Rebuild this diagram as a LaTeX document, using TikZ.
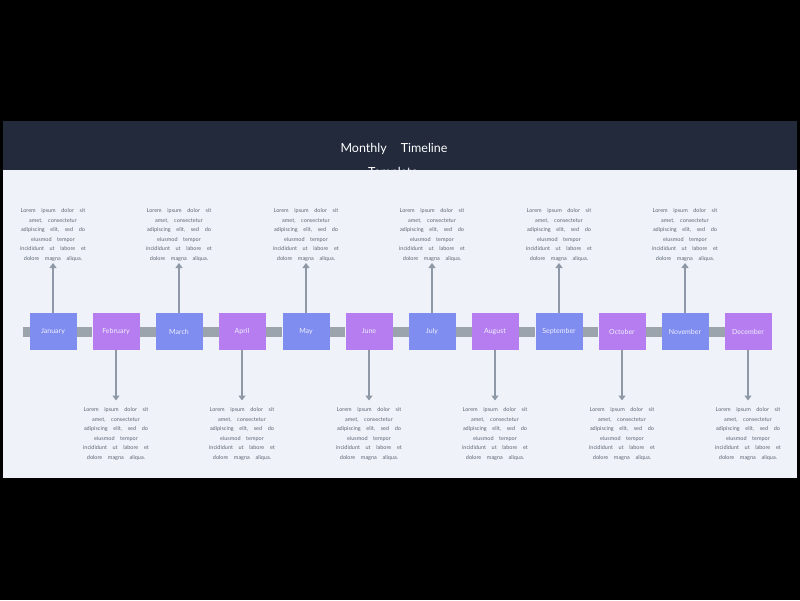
\documentclass[tikz,border=0pt]{standalone}
\usepackage{fontspec}
\setmainfont{Lato}
\newfontfamily\lorem{Lato}[WordSpace=2.6]
\newfontfamily\titlefont{Lato}[WordSpace=4]
\usetikzlibrary{arrows.meta}
\definecolor{bgdark}{HTML}{232A3C}
\definecolor{bglight}{HTML}{EFF3F9}
\definecolor{mblue}{HTML}{7F8CF0}
\definecolor{mpurple}{HTML}{B67DF0}
\definecolor{barcol}{HTML}{9BA3AD}
\definecolor{arrcol}{HTML}{8E98A6}
\definecolor{txtcol}{HTML}{5F6673}
\tikzset{
  month/.style={minimum width=47pt,minimum height=37pt,inner sep=0pt,text=white!88!mblue,font=\fontsize{7}{8}\selectfont},
  bluebox/.style={month,fill=mblue},
  purplebox/.style={month,fill=mpurple},
  bar/.style={fill=barcol},
  arr/.style={draw=arrcol,line width=2pt,-{Triangle[length=5pt,width=7pt]}},
  desc/.style={align=center,text=txtcol,inner sep=0pt,font=\lorem\fontsize{5.5}{9.5}\selectfont},
}
\begin{document}
\begin{tikzpicture}[x=1pt,y=-1pt]
\useasboundingbox (0,0) rectangle (800,600);
\fill[black] (0,0) rectangle (800,600);
\fill[bgdark] (3,121) rectangle (797,170);
\node[text=white,font=\titlefont\fontsize{12.5}{14}\selectfont] (title) at (394,149) {Monthly\hspace{14pt}Timeline};
\node[text=white,font=\titlefont\fontsize{12.5}{14}\selectfont] (title2) at (393,173) {Template};
\fill[bglight] (3,170) rectangle (797,478);
% bars
\fill[bar] (23,326.5) rectangle (30,336.5);
\foreach \i in {0,...,10}{
  \pgfmathsetmacro{\xa}{29+\i*63.27+47}
  \fill[bar] (\xa,326.5) rectangle (\xa+16.3,336.5);
}
\def\desctext{Lorem ipsum dolor sit\\amet, consectetur\\adipiscing elit, sed do\\eiusmod tempor\\incididunt ut labore et\\dolore magna aliqua.}
\foreach \name/\i in {January/0,March/2,May/4,July/6,September/8,November/10}{
  \pgfmathsetmacro{\cx}{round(52.5+\i*63.27)}
  \node[bluebox] (m\i) at (\cx,331.5) {\name};
  \node[desc,anchor=south] (t\i) at (\cx,261.5) {\desctext};
  \draw[arr] (m\i.north) -- ([yshift=-1.5pt]t\i.south);
}
\foreach \name/\i in {February/1,April/3,June/5,August/7,October/9,December/11}{
  \pgfmathsetmacro{\cx}{round(52.5+\i*63.27)}
  \node[purplebox] (m\i) at (\cx,331.5) {\name};
  \node[desc,anchor=north] (t\i) at (\cx,407.5) {\desctext};
  \draw[arr] (m\i.south) -- ([yshift=7pt]t\i.north);
}
\end{tikzpicture}
\end{document}
